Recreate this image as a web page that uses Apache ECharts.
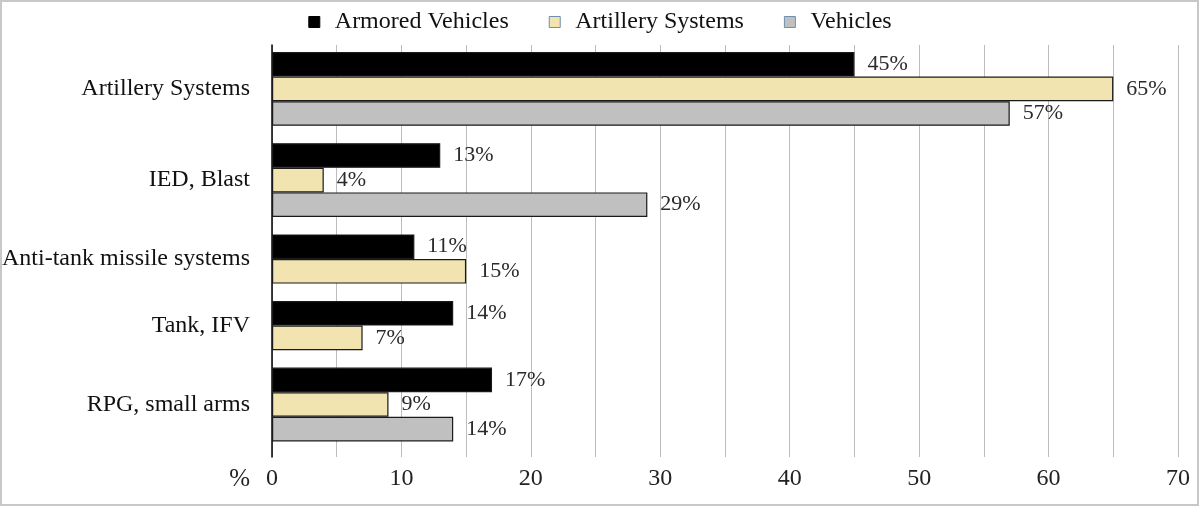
<!DOCTYPE html>
<html>
<head>
<meta charset="utf-8">
<script src="https://cdn.jsdelivr.net/npm/echarts@6/dist/echarts.min.js"></script>
<style>
  html, body { margin: 0; padding: 0; background: #fff; }
  #main { width: 1200px; height: 508px; }
</style>
</head>
<body>
<div id="main"></div>
<script>
// categories, top to bottom
var categories = ['Artillery Systems', 'IED, Blast', 'Anti-tank missile systems', 'Tank, IFV', 'RPG, small arms'];
var seriesNames = ['Armored Vehicles', 'Artillery Systems', 'Vehicles'];
// values in %, null = no bar
var armored   = [45, 13, 11, 14, 17];
var artillery = [65, 4, 15, 7, 9];
var vehicles  = [57, 29, null, null, 14];
var xTicks = [0, 10, 20, 30, 40, 50, 60, 70];

var values = [armored, artillery, vehicles];
var colors = ['#000000', '#F2E4B0', '#C0C0C0'];
var serif = '"Liberation Serif", "Times New Roman", serif';

var myChart = echarts.init(document.getElementById('main'));

// layout: one small grid per category, height depends on number of bars
var barH = 24.6, groupGap = 17.4, plotTop = 52;
var grids = [], xAxes = [], yAxes = [], series = [];

// background grid: gridlines, x labels, axis line
grids.push({ left: 272, right: 22, top: 45, bottom: 51, outerBoundsMode: 'none', containLabel: false });
xAxes.push({
    gridIndex: 0, type: 'value', min: 0, max: 70, interval: 5,
    name: '%', nameLocation: 'start', nameGap: 22,
    nameTextStyle: { fontFamily: serif, fontSize: 25, color: '#222', verticalAlign: 'top', padding: [10, 0, 0, 0] },
    axisLine: { show: false }, axisTick: { show: false },
    axisLabel: {
        fontFamily: serif, fontSize: 24, color: '#222', margin: 10,
        formatter: function (v) { return xTicks.indexOf(v) >= 0 ? v : ''; }
    },
    splitLine: { show: true, lineStyle: { color: '#BDBDBD', width: 1 } }
});
yAxes.push({
    gridIndex: 0, type: 'category', data: [''],
    axisLine: { show: true, lineStyle: { color: '#000', width: 1.5 } },
    axisTick: { show: false }, axisLabel: { show: false }
});

var y = plotTop;
categories.forEach(function (cat, ci) {
    var present = [];
    values.forEach(function (arr, si) { if (arr[ci] != null) present.push(si); });
    var h = present.length * barH;
    var gi = grids.length;
    grids.push({ left: 272, right: 22, top: y, height: h, outerBoundsMode: 'none', containLabel: false });
    xAxes.push({ gridIndex: gi, type: 'value', min: 0, max: 70, show: false });
    yAxes.push({
        gridIndex: gi, type: 'category', data: [cat], inverse: true,
        axisLine: { show: false }, axisTick: { show: false }, splitLine: { show: false },
        axisLabel: { fontFamily: serif, fontSize: 24, color: '#111', margin: 22 }
    });
    present.forEach(function (si) {
        series.push({
            name: seriesNames[si], type: 'bar',
            xAxisIndex: gi, yAxisIndex: gi,
            barGap: '0%', barCategoryGap: '0%',
            data: [values[si][ci]],
            itemStyle: { color: colors[si], borderColor: '#1a1a1a', borderWidth: 1.2 },
            label: {
                show: true, position: 'right', distance: 13,
                formatter: '{c}%', fontFamily: serif, fontSize: 22, color: '#2a2a2a'
            }
        });
    });
    y += h + groupGap;
});

var option = {
    animation: false,
    color: colors,
    legend: {
        data: [
            { name: 'Armored Vehicles', itemStyle: { color: '#000', borderColor: '#000', borderWidth: 1 } },
            { name: 'Artillery Systems', itemStyle: { color: '#F2E4B0', borderColor: '#6f8fb0', borderWidth: 1 } },
            { name: 'Vehicles', itemStyle: { color: '#C0C0C0', borderColor: '#6f8fb0', borderWidth: 1 } }
        ],
        top: 5, left: 'center', icon: 'rect', itemWidth: 11, itemHeight: 11, itemGap: 40,
        textStyle: { fontFamily: serif, fontSize: 24, color: '#111', padding: [0, 0, 0, 10] }
    },
    graphic: [{
        type: 'rect', silent: true,
        shape: { x: 1, y: 1, width: 1197, height: 504 },
        style: { fill: 'none', stroke: '#C8C8C8', lineWidth: 2 }
    }],
    grid: grids,
    xAxis: xAxes,
    yAxis: yAxes,
    series: series
};

myChart.setOption(option);
</script>
</body>
</html>
